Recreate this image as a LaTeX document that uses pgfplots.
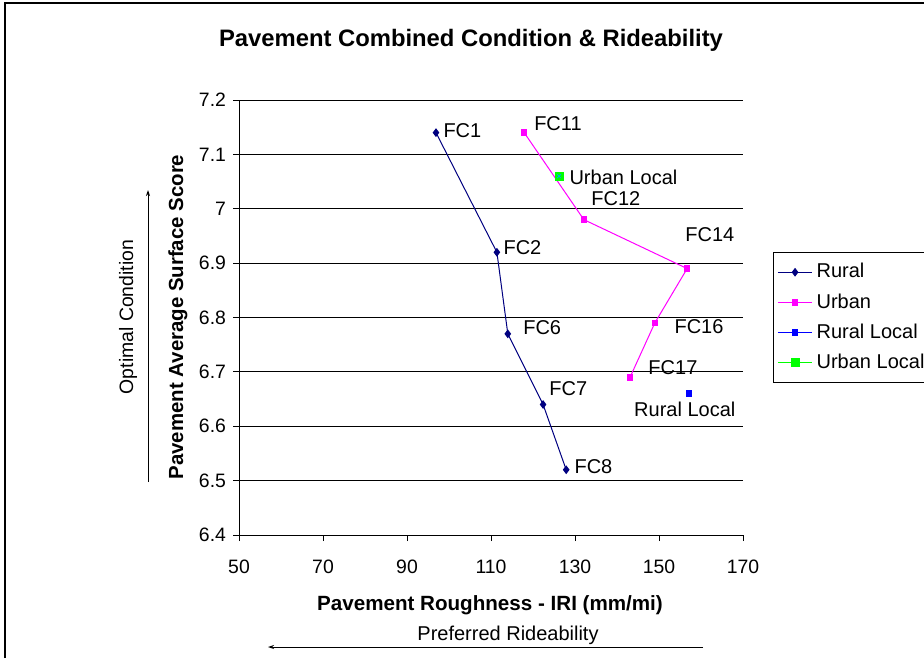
\documentclass[border=0pt]{standalone}
\usepackage{fontspec}
\setmainfont{Liberation Sans}
\usepackage{pgfplots}
\pgfplotsset{compat=1.18}
\usetikzlibrary{arrows.meta}
\definecolor{ruralc}{RGB}{0,0,128}
\definecolor{urbanc}{RGB}{255,0,255}
\definecolor{rlocal}{RGB}{0,0,255}
\definecolor{ulocal}{RGB}{0,255,0}
\newcommand{\lblfont}{\fontsize{10}{12}\selectfont}
\newcommand{\tickfont}{\fontsize{9.7}{11}\selectfont}
\begin{document}
\begin{tikzpicture}
\useasboundingbox (0,0) rectangle (462pt,-329pt);
% outer chart frame
\draw[line width=0.6pt] (2.5pt,-329pt) -- (2.5pt,-1.5pt) -- (462pt,-1.5pt);
\begin{axis}[
  at={(119.5pt,-267.5pt)}, anchor=south west,
  scale only axis, width=252pt, height=217.5pt,
  xmin=50, xmax=170, ymin=6.4, ymax=7.2,
  xtick={50,70,90,110,130,150,170},
  ytick={6.4,6.5,6.6,6.7,6.8,6.9,7.0,7.1,7.2},
  yticklabels={6.4,6.5,6.6,6.7,6.8,6.9,7,7.1,7.2},
  axis lines=left, axis line style={-, line width=0.5pt},
  ymajorgrids, major grid style={black, line width=0.5pt},
  tick align=outside, major tick length=3pt,
  tick style={black, line width=0.5pt},
  ticklabel style={font=\tickfont},
  xticklabel shift=6pt,
  /pgf/number format/assume math mode=true,
  clip=false,
  legend style={at={(1.0595,0.6506)}, anchor=north west, draw=black,
    line width=0.5pt, font=\lblfont, cells={anchor=west},
    row sep=2.3pt, inner xsep=2pt, inner ysep=3.5pt},
]
\addplot[ruralc, line width=0.5pt, mark=diamond*, mark size=1.8pt] coordinates {
  (96.9,7.14) (111.4,6.92) (114.0,6.77) (122.4,6.64) (127.9,6.52)};
\addlegendentry{Rural}
\addplot[urbanc, line width=0.5pt, mark=square*, mark size=1.4pt] coordinates {
  (117.9,7.14) (132.1,6.98) (156.7,6.89) (149.0,6.79) (143.1,6.69)};
\addlegendentry{Urban}
\addlegendimage{rlocal, line width=0.5pt, mark=square*, mark size=1.4pt}
\addlegendentry{Rural Local}
\addlegendimage{ulocal, line width=0.5pt, mark=square*, mark size=2pt}
\addlegendentry{Urban Local}
\addplot[only marks, rlocal, mark=square*, mark size=1.4pt, forget plot]
  coordinates {(157.1,6.66)};
\addplot[only marks, ulocal, mark=square*, mark size=2pt, forget plot]
  coordinates {(126.2,7.06)};
\addplot[only marks, cyan, mark=x, mark size=1.3pt, line width=0.4pt, forget plot]
  coordinates {(126.2,7.06)};
% point labels
\node[anchor=west, font=\lblfont, inner sep=0pt] at (axis cs:98.6,7.143) {FC1};
\node[anchor=west, font=\lblfont, inner sep=0pt] at (axis cs:112.9,6.928) {FC2};
\node[anchor=west, font=\lblfont, inner sep=0pt] at (axis cs:117.6,6.781) {FC6};
\node[anchor=west, font=\lblfont, inner sep=0pt] at (axis cs:123.8,6.669) {FC7};
\node[anchor=west, font=\lblfont, inner sep=0pt] at (axis cs:129.8,6.525) {FC8};
\node[anchor=west, font=\lblfont, inner sep=0pt] at (axis cs:120.2,7.156) {FC11};
\node[anchor=west, font=\lblfont, inner sep=0pt] at (axis cs:133.8,7.018) {FC12};
\node[anchor=west, font=\lblfont, inner sep=0pt] at (axis cs:156.2,6.952) {FC14};
\node[anchor=west, font=\lblfont, inner sep=0pt] at (axis cs:153.6,6.784) {FC16};
\node[anchor=west, font=\lblfont, inner sep=0pt] at (axis cs:147.4,6.707) {FC17};
\node[anchor=west, font=\lblfont, inner sep=0pt] at (axis cs:128.6,7.058) {Urban Local};
\node[anchor=west, font=\lblfont, inner sep=0pt] at (axis cs:144.0,6.632) {Rural Local};
\end{axis}
% titles and axis captions
\node[font=\fontsize{11.9}{14}\selectfont\bfseries] at (235.5pt,-20pt) {Pavement Combined Condition \& Rideability};
\node[font=\fontsize{10.2}{12}\selectfont\bfseries, rotate=90] at (89pt,-158.5pt) {Pavement Average Surface Score};
\node[font=\tickfont, rotate=90] at (64pt,-158.5pt) {Optimal Condition};
\draw[line width=0.5pt, -{Stealth[length=3pt,width=2pt]}] (74pt,-241pt) -- (74pt,-95pt);
\node[font=\fontsize{10.3}{12}\selectfont\bfseries] at (245pt,-302.5pt) {Pavement Roughness - IRI (mm/mi)};
\node[font=\lblfont] at (254pt,-317.5pt) {Preferred Rideability};
\draw[line width=0.5pt, -{Stealth[length=3pt,width=2pt]}] (351.5pt,-323.5pt) -- (134pt,-323.5pt);
\end{tikzpicture}
\end{document}
